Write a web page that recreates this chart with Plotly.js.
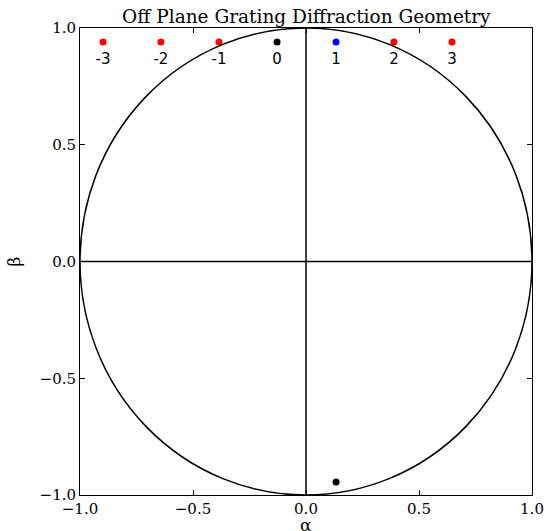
<!DOCTYPE html>
<html><head><meta charset="utf-8">
<script src="https://cdn.plot.ly/plotly-3.0.1.min.js"></script>
<style>html,body{margin:0;padding:0;background:#fff}</style>
</head><body>
<div id="chart" style="width:549px;height:531px"></div>
<script>
const orderLabels = ["-3", "-2", "-1", "0", "1", "2", "3"];
const orderAlpha = [-0.898, -0.642, -0.385, -0.128, 0.133, 0.389, 0.646];
const orderBeta = [0.94, 0.94, 0.94, 0.94, 0.94, 0.94, 0.94];
const orderColors = ["red", "red", "red", "black", "blue", "red", "red"];
const labelBeta = [0.862, 0.862, 0.862, 0.862, 0.862, 0.862, 0.862];
const incidentAlpha = [0.133];
const incidentBeta = [-0.944];

const font = "DejaVu Serif, serif";
const traces = [
  {x: orderAlpha, y: orderBeta, mode: "markers", type: "scatter",
   marker: {color: orderColors, size: 7}, hoverinfo: "none", showlegend: false},
  {x: orderAlpha, y: labelBeta, mode: "text", type: "scatter", text: orderLabels,
   textfont: {family: "DejaVu Sans, sans-serif", size: 15, color: "black"}, hoverinfo: "none", showlegend: false},
  {x: incidentAlpha, y: incidentBeta, mode: "markers", type: "scatter",
   marker: {color: "black", size: 7}, hoverinfo: "none", showlegend: false}
];
const axisCommon = {
  range: [-1, 1], tickvals: [-1, -0.5, 0, 0.5, 1], tickformat: ".1f",
  ticks: "inside", ticklen: 5, tickwidth: 1, tickcolor: "black",
  showline: true, linecolor: "black", linewidth: 1, mirror: "ticks",
  showgrid: false, zeroline: false,
  tickfont: {family: font, size: 15, color: "black"}
};
const layout = {
  width: 549, height: 531,
  margin: {l: 80, r: 17, t: 28, b: 36},
  paper_bgcolor: "white", plot_bgcolor: "white",
  title: {text: "Off Plane Grating Diffraction Geometry", font: {family: font, size: 18.5, color: "black"},
          x: 0.558, xanchor: "center", y: 0.968, yanchor: "middle"},
  xaxis: axisCommon,
  yaxis: Object.assign({}, axisCommon, {title: {text: "β", font: {family: font, size: 17, color: "black"}, standoff: 14}}),
  annotations: [
    {text: "α", xref: "paper", yref: "paper", x: 0.5, y: -0.064, xanchor: "center", yanchor: "middle",
     showarrow: false, font: {family: font, size: 17, color: "black"}}
  ],
  shapes: [
    {type: "circle", xref: "x", yref: "y", x0: -1, y0: -1, x1: 1, y1: 1, line: {color: "black", width: 1.5}},
    {type: "line", xref: "x", yref: "y", x0: 0, y0: -1, x1: 0, y1: 1, line: {color: "black", width: 1.5}},
    {type: "line", xref: "x", yref: "y", x0: -1, y0: 0, x1: 1, y1: 0, line: {color: "black", width: 1.5}}
  ]
};
Plotly.newPlot("chart", traces, layout, {displayModeBar: false, staticPlot: true});
</script>
</body></html>
